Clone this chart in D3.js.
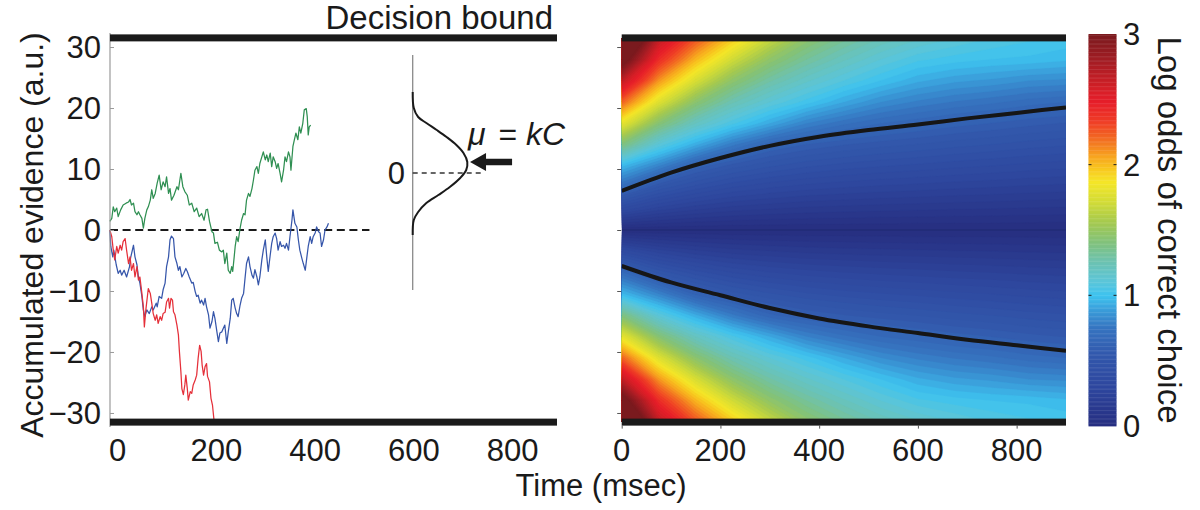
<!DOCTYPE html>
<html>
<head>
<meta charset="utf-8">
<script src="https://cdn.jsdelivr.net/npm/d3@7"></script>
<style>
body { margin: 0; background: #fff; }
svg { display: block; font-family: "Liberation Sans", Arial, Helvetica, sans-serif; }
</style>
</head>
<body>
<svg id="chart" width="1200" height="510"></svg>
<script>
// ---- random-walk traces (time in msec, accumulated evidence)
const greenTime = [-16,-12,-9,-6,-2,1,6,11,17,22,25,28,32,35,39,42,45,49,52,55,59,62,66,69,72,76,80,84,88,92,96,99,103,106,109,114,120,123,128,132,136,141,145,150,155,160,165,170,175,179,182,186,191,194,197,202,206,211,214,217,221,224,228,231,233,236,238,241,244,248,251,255,258,261,265,268,272,275,278,282,285,288,292,295,299,302,305,309,312,315,319,322,325,329,332,336,339,342,346,349,351,355,358,361,365,368,371,375,378,382,384,386,388,391];
const greenValue = [1.4,1.9,3.8,3.0,3.6,2.2,3.3,4.1,4.4,4.6,5.0,4.1,4.4,3.0,2.5,3.0,2.5,1.9,0.3,1.9,3.3,3.8,4.9,6.6,5.2,6.0,7.7,9.0,6.6,7.9,7.1,8.7,6.0,6.8,4.9,5.7,7.1,6.6,9.3,7.1,6.3,5.7,4.1,4.4,3.0,3.6,2.2,2.7,1.6,3.3,3.4,1.4,-0.3,-0.5,-2.2,-2.0,-3.3,-3.6,-3.3,-5.5,-3.8,-6.6,-7.1,-6.0,-6.8,-4.4,-2.7,-1.1,-1.9,0.3,1.6,2.7,2.5,4.9,6.0,5.5,6.8,8.2,9.8,10.4,9.3,10.9,12.0,12.8,11.5,12.3,11.2,12.6,10.4,12.0,11.2,10.1,10.9,9.3,7.9,9.8,12.0,11.2,12.8,12.0,9.8,13.7,14.8,15.9,14.8,16.9,15.9,17.5,19.7,19.9,18.6,15.6,16.9,17.2];

const blueTime = [-16,-14,-10,-8,-3,1,5,8,13,18,24,26,32,35,39,42,45,49,52,55,59,64,69,72,78,80,84,89,92,96,99,103,106,109,113,116,120,123,126,130,134,138,141,145,150,153,157,160,163,167,170,174,177,180,184,187,191,194,197,201,204,207,211,214,217,221,224,228,231,234,238,241,244,248,251,255,258,261,265,268,272,275,278,282,285,288,292,295,299,302,305,309,312,315,319,322,325,329,332,336,339,342,346,349,353,355,357,359,363,366,369,373,376,380,383,386,390,393,396,400,403,407,410,413,417,420,424,427];
const blueValue = [0,-2.7,-4.4,-3.3,-5.7,-7.1,-6.6,-7.4,-6.6,-7.7,-6.0,-4.6,-2.5,-4.4,-5.7,-7.7,-8.7,-10.9,-13.1,-14.2,-13.1,-13.7,-12.6,-13.1,-12.0,-12.6,-10.9,-11.2,-9.8,-8.7,-6.0,-4.4,-1.6,-1.0,-1.4,-4.4,-5.5,-6.6,-6.0,-7.7,-7.1,-6.3,-6.8,-7.7,-8.7,-8.6,-10.1,-10.9,-10.7,-12.0,-11.5,-12.3,-11.2,-12.6,-13.9,-16.1,-15.0,-13.4,-14.5,-16.7,-18.3,-16.9,-16.7,-16.1,-15.6,-18.6,-16.7,-14.5,-11.5,-11.2,-12.8,-13.7,-14.2,-12.3,-11.2,-10.4,-7.9,-5.5,-4.4,-6.0,-7.4,-7.9,-6.5,-7.7,-9.0,-7.7,-4.9,-3.3,-1.6,-4.4,-6.8,-4.1,-2.2,-1.1,-0.5,-1.4,-3.3,-1.9,-2.7,-2.5,-3.0,-2.2,-3.3,-1.1,1.6,3.3,2.2,1.1,0.5,-1.6,-3.3,-4.6,-5.5,-6.6,-4.6,-2.7,-1.1,-2.2,-1.1,-0.5,0.5,-0.3,-0.5,-2.7,-1.6,0,0.5,1.1];

const redTime = [-16,-12,-9,-6,-2,1,5,8,11,15,18,22,25,28,32,35,39,42,45,49,52,54,57,62,66,69,72,76,79,82,86,89,92,96,99,103,105,108,111,113,116,120,123,125,128,130,133,136,138,141,143,147,150,153,157,160,163,166,169,171,174,177,180,182,186,189,192,195];
const redValue = [0,-1.1,-3.3,-4.9,-2.7,-3.8,-2.5,-3.3,-1.9,-1.4,-3.3,-5.5,-4.4,-6.6,-5.5,-7.7,-6.0,-8.2,-7.7,-10.4,-12.6,-15.9,-13.1,-9.6,-10.4,-12.0,-13.7,-14.8,-13.9,-15.3,-14.2,-14.8,-13.7,-13.5,-11.8,-11.2,-12.8,-11.2,-11.5,-13.4,-13.9,-15.6,-17.2,-19.9,-23.2,-26.0,-27.0,-25.4,-23.8,-26.0,-27.9,-26.5,-26.8,-25.4,-24.6,-23.8,-21.0,-18.9,-19.9,-22.1,-23.8,-22.4,-21.9,-24.0,-24.9,-27.6,-28.7,-31.1];

// ---- decision bound and axes
const boundLevel = 31.5;
const yTicks = [-30, -20, -10, 0, 10, 20, 30];
const xTicks = [0, 200, 400, 600, 800];

// ---- inset: distribution of momentary evidence (schematic units)
const insetLevel = [8.1, 6.5, 5.6, 5.0, 4.3, 3.6, 2.8, 2.0, 1.1, 0.3, -0.5, -1.4, -2.2, -3.0, -3.9, -4.7, -6.2];
const insetDensity = [0, 0.02, 0.1, 0.25, 0.44, 0.62, 0.8, 0.93, 1.0, 0.98, 0.87, 0.68, 0.47, 0.25, 0.1, 0.02, 0];
const insetMean = 1.1;

// ---- log odds of a correct choice, rows = |evidence|, columns = time
const oddsTimes = [0, 75, 150, 225, 300, 375, 450, 525, 600, 675, 750, 825, 900];
const oddsEvidence = [0, 3.5, 7, 10.5, 14, 17.5, 21, 24.5, 28, 31.5];
const logOdds = [
  [0, 0, 0, 0, 0, 0, 0, 0, 0, 0, 0, 0, 0],
  [0.35, 0.26, 0.21, 0.18, 0.162, 0.149, 0.141, 0.134, 0.129, 0.124, 0.12, 0.115, 0.111],
  [0.69, 0.51, 0.42, 0.36, 0.324, 0.298, 0.282, 0.269, 0.259, 0.248, 0.24, 0.23, 0.223],
  [0.97, 0.80, 0.625, 0.54, 0.486, 0.447, 0.422, 0.403, 0.388, 0.372, 0.359, 0.345, 0.334],
  [1.40, 1.11, 0.93, 0.77, 0.65, 0.596, 0.563, 0.537, 0.518, 0.496, 0.479, 0.46, 0.446],
  [1.81, 1.43, 1.20, 1.05, 0.92, 0.80, 0.73, 0.68, 0.65, 0.62, 0.599, 0.574, 0.557],
  [2.23, 1.77, 1.45, 1.25, 1.12, 1.02, 0.92, 0.84, 0.79, 0.755, 0.73, 0.70, 0.68],
  [2.68, 2.10, 1.74, 1.46, 1.29, 1.17, 1.08, 1.00, 0.93, 0.89, 0.87, 0.84, 0.83],
  [3.15, 2.41, 2.02, 1.71, 1.47, 1.32, 1.21, 1.12, 1.05, 1.02, 1.00, 0.99, 0.97],
  [3.60, 2.69, 2.28, 1.97, 1.69, 1.47, 1.34, 1.24, 1.17, 1.12, 1.08, 1.05, 1.03]
];

// black iso-odds lines
const isoTimes = [0, 100, 200, 300, 400, 500, 600, 700, 800, 900];
const isoUpper = [6.4, 9.4, 11.8, 13.8, 15.3, 16.4, 17.3, 18.3, 19.2, 20.1];
const isoLower = [-5.9, -8.6, -10.7, -12.8, -14.5, -15.8, -16.9, -18.0, -18.9, -19.8];

const colorbarTicks = [0, 1, 2, 3];

// colour map as in the colour bar
const cmapStops = [0, 0.3, 0.55, 0.75, 0.88, 1.0, 1.11, 1.26, 1.41, 1.56, 1.72, 1.87, 1.97, 2.07, 2.2, 2.33, 2.48, 2.6, 2.79, 3.0];
const cmapColors = ['#262e80', '#2e479e', '#3258ac', '#3674c0', '#3a9ad8', '#3dc3ef', '#5cc5d8', '#6dc2b0', '#82c27a',
  '#a5c94f', '#d3dc36', '#f5e627', '#f8c71f', '#f7a21f', '#f26b22', '#ef3d26', '#e61e2a', '#d11f26', '#a41d24', '#7a1a1e'];

const svg = d3.select('#chart');
const ink = '#1a1a1a';
const fontSize = 31;

const yScale = d3.scaleLinear().domain([-32.3, 32.3]).range([427, 33]);
const xLeft = d3.scaleLinear().domain([-15.6, 890]).range([110, 557]);
const xRight = d3.scaleLinear().domain([0, 900]).range([621.7, 1066]);
const cmap = d3.scaleLinear().domain(cmapStops).range(cmapColors).clamp(true);

// ================= right panel: heat map =================
const rows = logOdds.slice().reverse().concat(logOdds.slice(1));
const nT = oddsTimes.length, nE = rows.length;
const topEv = oddsEvidence[oddsEvidence.length - 1];
const evidenceAt = d3.scaleLinear().domain([0, nE - 1]).range([topEv, -topEv]);
const timeAt = d3.scaleLinear().domain([0, nT - 1]).range([oddsTimes[0], oddsTimes[nT - 1]]);

svg.append('clipPath').attr('id', 'heat-clip')
  .append('rect')
  .attr('x', xRight(0)).attr('width', xRight(900) - xRight(0))
  .attr('y', yScale(topEv)).attr('height', yScale(-topEv) - yScale(topEv));

const heat = svg.append('g').attr('clip-path', 'url(#heat-clip)');

heat.append('rect')
  .attr('x', xRight(0)).attr('width', xRight(900) - xRight(0))
  .attr('y', yScale(topEv)).attr('height', yScale(-topEv) - yScale(topEv))
  .attr('fill', cmap(0.02));

const step = 0.04;
const contours = d3.contours()
  .size([nT, nE])
  .thresholds(d3.range(0, 3.0001, step))(rows.flat());

const proj = d3.geoTransform({
  point(x, y) {
    const i = Math.max(0, Math.min(nT - 1, x - 0.5));
    const j = Math.max(0, Math.min(nE - 1, y - 0.5));
    this.stream.point(xRight(timeAt(i)), yScale(evidenceAt(j)));
  }
});
const geoPath = d3.geoPath(proj);

heat.selectAll('path.band')
  .data(contours)
  .join('path')
  .attr('class', 'band')
  .attr('d', geoPath)
  .attr('fill', d => cmap(d.value + step / 2))
  .attr('stroke', d => cmap(d.value + step / 2))
  .attr('stroke-width', 0.3);

// faint dark seam along zero evidence
heat.append('line')
  .attr('x1', xRight(0)).attr('x2', xRight(900))
  .attr('y1', yScale(0)).attr('y2', yScale(0))
  .attr('stroke', '#1b2466').attr('stroke-width', 1).attr('opacity', 0.6);

const isoLine = d3.line()
  .x(d => xRight(d[0]))
  .y(d => yScale(d[1]))
  .curve(d3.curveMonotoneX);

[isoUpper, isoLower].forEach(vals => {
  heat.append('path')
    .datum(d3.zip(isoTimes, vals))
    .attr('fill', 'none')
    .attr('stroke', '#161616')
    .attr('stroke-width', 4)
    .attr('d', isoLine);
});

// ================= left panel: traces =================
const traceLine = d3.line()
  .x(d => xLeft(d[0]))
  .y(d => yScale(d[1]));

svg.append('line')
  .attr('x1', xLeft(-15.6)).attr('x2', xLeft(510))
  .attr('y1', yScale(0)).attr('y2', yScale(0))
  .attr('stroke', ink).attr('stroke-width', 2.2)
  .attr('stroke-dasharray', '8,4.6');

const traces = [
  { t: greenTime, v: greenValue, color: '#2f8f52' },
  { t: blueTime, v: blueValue, color: '#3656aa' },
  { t: redTime, v: redValue, color: '#e5303a' }
];
traces.forEach(tr => {
  svg.append('path')
    .datum(d3.zip(tr.t, tr.v))
    .attr('fill', 'none')
    .attr('stroke', tr.color)
    .attr('stroke-width', 1.25)
    .attr('stroke-linejoin', 'round')
    .attr('d', traceLine);
});

// left y axis (thin grey, ticks inside)
const yAxisLeft = d3.axisRight(yScale).tickValues(yTicks).tickSize(4).tickFormat('');
const gyl = svg.append('g').attr('transform', `translate(${xLeft(-15.6)},0)`).call(yAxisLeft);
gyl.select('.domain').attr('stroke', '#9a9a9a').attr('stroke-width', 1.2)
  .attr('d', `M0,${yScale.range()[1]}V${yScale.range()[0]}`);
gyl.selectAll('.tick line').attr('stroke', '#9a9a9a');

svg.append('g')
  .selectAll('text')
  .data(yTicks)
  .join('text')
  .attr('x', 101)
  .attr('y', d => yScale(d))
  .attr('dy', '0.36em')
  .attr('text-anchor', 'end')
  .attr('font-size', fontSize)
  .attr('fill', ink)
  .text(d => d3.format('d')(d));

// right panel y ticks (outside, no labels)
const yAxisRight = d3.axisLeft(yScale).tickValues(yTicks).tickSize(4).tickFormat('');
const gyr = svg.append('g').attr('transform', `translate(${xRight(0) - 0.5},0)`).call(yAxisRight);
gyr.select('.domain').remove();
gyr.selectAll('.tick line').attr('stroke', '#555');

// bottom ticks of the right panel
const xAxisRight = d3.axisBottom(xRight).tickValues(xTicks).tickSize(3).tickFormat('');
const gxr = svg.append('g').attr('transform', `translate(0,${yScale(-boundLevel) + 3.5})`).call(xAxisRight);
gxr.select('.domain').remove();
gxr.selectAll('.tick line').attr('stroke', '#555');

// x tick labels for both panels
[xLeft, xRight].forEach(xs => {
  svg.append('g')
    .selectAll('text')
    .data(xTicks)
    .join('text')
    .attr('x', d => xs(d))
    .attr('y', 461)
    .attr('text-anchor', 'middle')
    .attr('font-size', fontSize)
    .attr('fill', ink)
    .text(d => d);
});

// decision bounds
[[xLeft, -15.6, 890], [xRight, 0, 900]].forEach(([xs, a, b]) => {
  [boundLevel, -boundLevel].forEach(lv => {
    svg.append('rect')
      .attr('x', xs(a))
      .attr('width', xs(b) - xs(a))
      .attr('y', yScale(lv) - 3.5)
      .attr('height', 7)
      .attr('fill', ink);
  });
});

// ================= inset =================
const insetY = d3.scaleLinear().domain([-12, 12]).range([293, 53]);
const insetX = d3.scaleLinear().domain([0, 1]).range([412.7, 467.3]);

svg.append('line')
  .attr('x1', insetX(0)).attr('x2', insetX(0))
  .attr('y1', insetY(11.8)).attr('y2', insetY(-11.7))
  .attr('stroke', '#8a8a8a').attr('stroke-width', 1.3);

svg.append('path')
  .datum(d3.zip(insetDensity, insetLevel))
  .attr('fill', 'none')
  .attr('stroke', ink)
  .attr('stroke-width', 2)
  .attr('d', d3.line().x(d => insetX(d[0])).y(d => insetY(d[1])).curve(d3.curveCatmullRom));

svg.append('line')
  .attr('x1', insetX(0)).attr('x2', insetX(1.25))
  .attr('y1', insetY(0)).attr('y2', insetY(0))
  .attr('stroke', '#333').attr('stroke-width', 1.6)
  .attr('stroke-dasharray', '5,4');

svg.append('text')
  .attr('x', 405).attr('y', insetY(0))
  .attr('dy', '0.36em')
  .attr('text-anchor', 'end')
  .attr('font-size', fontSize)
  .attr('fill', ink)
  .text('0');

// arrow pointing at the mean
const ay = insetY(insetMean);
const tip = insetX(1.05), headEnd = tip + 16, tail = insetX(1.82);
svg.append('path')
  .attr('d', `M${tip},${ay}L${headEnd},${ay - 9}L${headEnd},${ay - 3.2}L${tail},${ay - 3.2}` +
    `L${tail},${ay + 3.2}L${headEnd},${ay + 3.2}L${headEnd},${ay + 9}Z`)
  .attr('fill', ink);

const mu = svg.append('text')
  .attr('x', 468).attr('y', 145)
  .attr('font-size', 32)
  .attr('fill', ink);
mu.append('tspan').attr('font-style', 'italic').text('μ');
mu.append('tspan').attr('dx', 4).text(' = ');
mu.append('tspan').attr('font-style', 'italic').text('kC');

// ================= colour bar =================
const cbY = d3.scaleLinear().domain([0, 3]).range([426, 34]);
const cbX = 1088.5, cbW = 28;
const cbSteps = d3.range(0, 3, 0.01);
svg.append('g')
  .selectAll('rect')
  .data(cbSteps)
  .join('rect')
  .attr('x', cbX)
  .attr('width', cbW)
  .attr('y', d => cbY(d + 0.01))
  .attr('height', cbY(0) - cbY(0.01) + 0.4)
  .attr('fill', d => cmap(d + 0.005));

colorbarTicks.slice(1, 3).forEach(v => {
  svg.append('line').attr('x1', cbX).attr('x2', cbX + 3).attr('y1', cbY(v)).attr('y2', cbY(v))
    .attr('stroke', ink).attr('stroke-width', 1);
  svg.append('line').attr('x1', cbX + cbW - 3).attr('x2', cbX + cbW).attr('y1', cbY(v)).attr('y2', cbY(v))
    .attr('stroke', ink).attr('stroke-width', 1);
});

svg.append('g')
  .selectAll('text')
  .data(colorbarTicks)
  .join('text')
  .attr('x', 1123)
  .attr('y', d => cbY(d))
  .attr('dy', '0.36em')
  .attr('font-size', fontSize)
  .attr('fill', ink)
  .text(d => d);

// ================= titles =================
svg.append('text')
  .attr('x', 553).attr('y', 29)
  .attr('text-anchor', 'end')
  .attr('font-size', 33)
  .attr('fill', ink)
  .text('Decision bound');

svg.append('text')
  .attr('x', 601).attr('y', 496)
  .attr('text-anchor', 'middle')
  .attr('font-size', fontSize)
  .attr('fill', ink)
  .text('Time (msec)');

svg.append('text')
  .attr('transform', 'translate(43,235) rotate(-90)')
  .attr('text-anchor', 'middle')
  .attr('font-size', 32)
  .attr('fill', ink)
  .text('Accumulated evidence (a.u.)');

svg.append('text')
  .attr('transform', 'translate(1158,230) rotate(90)')
  .attr('text-anchor', 'middle')
  .attr('font-size', 33)
  .attr('fill', ink)
  .text('Log odds of correct choice');
</script>
</body>
</html>
